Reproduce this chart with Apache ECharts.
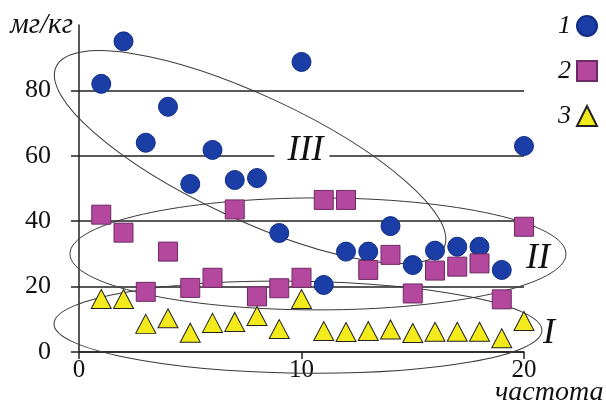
<!DOCTYPE html>
<html><head><meta charset="utf-8">
<script src="https://cdn.jsdelivr.net/npm/echarts@6/dist/echarts.min.js"></script>
<style>html,body{margin:0;padding:0;background:#fff}#c{width:606px;height:405px}</style>
</head><body><div id="c"></div>
<script>
// ---- data ----
const frequency = [1,2,3,4,5,6,7,8,9,10,11,12,13,14,15,16,17,18,19,20];
const series1 = [82, 95, 64, 75, 51.4, 61.8, 52.6, 53.2, 36.4, 88.7, 20.5, 30.7, 30.7, 38.5, 26.6, 31, 32.2, 32.2, 25.1, 63];
const series2 = [42, 36.5, 18.4, 30.7, 19.6, 22.7, 43.6, 17, 19.5, 22.7, 46.5, 46.5, 25.1, 29.7, 17.9, 24.9, 26.1, 27.1, 16.1, 38.3];
const series3 = [16.2, 16.2, 8.6, 10.3, 5.9, 8.9, 9.2, 11, 7, 16.2, 6.4, 6.1, 6.4, 6.9, 5.8, 6.2, 6.2, 6.2, 4.2, 9.5];
const seriesNames = ['1', '2', '3'];
const yTickLabels = [0, 20, 40, 60, 80];
const xTickLabels = [0, 10, 20];
const yAxisName = 'мг/кг';
const xAxisName = 'частота';
const groupLabels = ['III', 'II', 'I'];

// ---- annotation geometry (group outlines) ----
const outlines = [
  {center: [7.69, 59.6], rx: 214, ry: 62, angle: -25},
  {center: [10.74, 30.0], rx: 248, ry: 56, angle: 0},
  {center: [9.84, 7.6], rx: 244, ry: 46, angle: -0.8}
];
const labelAnchors = [[10.02, 61.5], [20.63, 28.7], [21.12, 5.5]];

const SERIF = 'Liberation Serif';

const toPairs = arr => frequency.map((x, i) => [x, arr[i]]);

const option = {
  animation: false,
  backgroundColor: '#fff',
  textStyle: {fontFamily: SERIF},
  grid: {left: 79, right: 82, top: 25, bottom: 53, containLabel: false, outerBoundsMode: 'none'},
  legend: {
    orient: 'vertical', right: 8, top: 13, align: 'right', padding: 0,
    itemWidth: 20, itemHeight: 20, itemGap: 19,
    data: seriesNames,
    textStyle: {fontFamily: SERIF, fontStyle: 'italic', fontSize: 26, color: '#111', padding: [0, 1, 0, 0]}
  },
  xAxis: {
    type: 'value', min: 0, max: 20, interval: 10,
    name: xAxisName, nameLocation: 'end', nameGap: -29, nameMoveOverlap: false,
    nameTextStyle: {fontFamily: SERIF, fontStyle: 'italic', fontSize: 28, color: '#111', align: 'left', verticalAlign: 'top', padding: [27, 0, 0, 0]},
    axisLine: {show: true, onZero: false, lineStyle: {color: '#222', width: 1.5}},
    axisTick: {show: true, length: 7, lineStyle: {color: '#222', width: 1.5}, customValues: xTickLabels},
    axisLabel: {fontFamily: SERIF, fontSize: 25, color: '#111', margin: 6, customValues: xTickLabels},
    splitLine: {show: false}
  },
  yAxis: {
    type: 'value', min: 0, max: 100, interval: 20,
    name: yAxisName, nameLocation: 'end', nameGap: 0,
    nameTextStyle: {fontFamily: SERIF, fontStyle: 'italic', fontSize: 29, color: '#111', align: 'right', verticalAlign: 'middle', padding: [0, 6, 0, 0]},
    axisLine: {show: true, onZero: false, lineStyle: {color: '#222', width: 1.5}},
    axisTick: {show: true, length: 8, lineStyle: {color: '#222', width: 1.5}, customValues: yTickLabels},
    axisLabel: {fontFamily: SERIF, fontSize: 26, color: '#111', margin: 28, padding: [0, 0, 5, 0], customValues: yTickLabels},
    splitLine: {show: true, lineStyle: {color: '#222', width: 1.5}}
  },
  series: [
    {name: seriesNames[0], type: 'scatter', z: 5, symbol: 'circle', symbolSize: 19, data: toPairs(series1),
      itemStyle: {color: '#1b3ea6', borderColor: '#0f2d86', borderWidth: 1, opacity: 1}},
    {name: seriesNames[1], type: 'scatter', z: 5, symbol: 'rect', symbolSize: 19, data: toPairs(series2),
      itemStyle: {color: '#b4479e', borderColor: '#6e2a62', borderWidth: 1, opacity: 1}},
    {name: seriesNames[2], type: 'scatter', z: 5, symbol: 'triangle', symbolSize: [20, 19], data: toPairs(series3),
      itemStyle: {color: '#f3ea1c', borderColor: '#222', borderWidth: 1, opacity: 1}}
  ]
};

const chart = echarts.init(document.getElementById('c'), null, {renderer: 'canvas'});
chart.setOption(option);

const px = p => chart.convertToPixel({gridIndex: 0}, p);
const elements = [];
outlines.forEach(o => {
  const c = px(o.center);
  elements.push({
    type: 'ellipse', x: c[0], y: c[1], rotation: o.angle * Math.PI / 180,
    shape: {cx: 0, cy: 0, rx: o.rx, ry: o.ry},
    style: {fill: 'none', stroke: '#3a3a3a', lineWidth: 1},
    silent: true, z: 3
  });
});
groupLabels.forEach((t, i) => {
  const c = px(labelAnchors[i]);
  elements.push({
    type: 'text', x: c[0], y: c[1], silent: true, z: 2,
    style: {
      text: t, font: 'italic 36px "Liberation Serif"', fill: '#111',
      align: 'center', verticalAlign: 'middle',
      backgroundColor: i === 0 ? '#fff' : 'transparent',
      padding: i === 0 ? [0, 6, 0, 13] : 0
    }
  });
});
chart.setOption({graphic: {elements: elements}});
</script>
</body></html>
